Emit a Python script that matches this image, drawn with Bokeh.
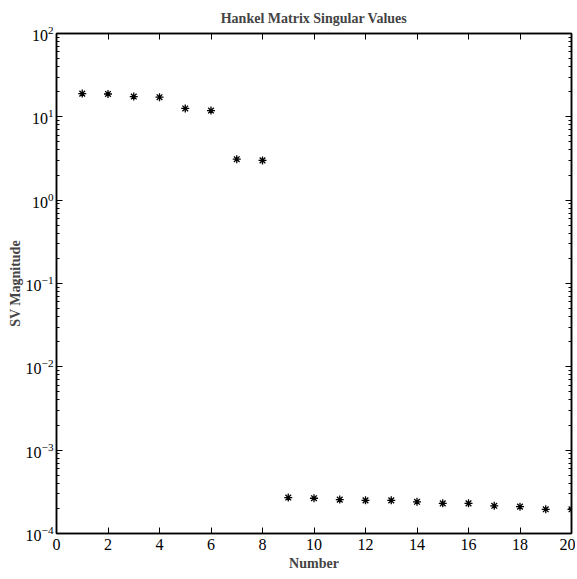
from bokeh.plotting import figure
from bokeh.models import (Range1d, LinearAxis, LogAxis, LogTicker,
                          SingleIntervalTicker, ColumnDataSource)
from bokeh.embed import file_html
from bokeh.resources import INLINE

# ---- data ----
number = list(range(1, 21))
sv_magnitude = [19.0, 18.8, 17.5, 17.2, 12.6, 11.9, 3.1, 3.0,
                2.7e-4, 2.65e-4, 2.55e-4, 2.5e-4, 2.5e-4, 2.4e-4,
                2.3e-4, 2.3e-4, 2.15e-4, 2.1e-4, 1.95e-4, 1.95e-4]
title_text = "Hankel Matrix Singular Values"
x_label = "Number"
y_label = "SV Magnitude"

FONT = "Liberation Serif"

p = figure(width=575, height=577, y_axis_type="log",
           x_range=Range1d(0, 20), y_range=Range1d(1e-4, 1e2),
           output_backend="svg", toolbar_location=None,
           min_border_left=56, min_border_right=4,
           min_border_top=33, min_border_bottom=44)

p.title.text = title_text
p.title.align = "center"
p.title.text_font = FONT
p.title.text_font_size = "14px"
p.title.text_font_style = "bold"
p.title.text_line_height = 1.0
p.title.offset = 0
p.title.standoff = 16

p.xgrid.visible = False
p.ygrid.visible = False
p.outline_line_color = "black"
p.outline_line_width = 1.5
p.background_fill_color = "white"
p.border_fill_color = "white"

xt = SingleIntervalTicker(interval=2, num_minor_ticks=0)
yt = LogTicker(num_minor_ticks=10)

def style(ax, labels=True):
    ax.axis_line_color = "black"
    ax.axis_line_width = 1.5
    ax.major_tick_in = 6
    ax.major_tick_out = 0
    ax.minor_tick_in = 3
    ax.minor_tick_out = 0
    ax.major_tick_line_color = "black"
    ax.minor_tick_line_color = "black"
    ax.major_label_text_font = FONT
    if labels:
        ax.major_label_text_font_size = "16px"
        ax.major_label_text_color = "black"
        ax.major_label_standoff = 4
    else:
        ax.major_label_text_font_size = "1px"
        ax.major_label_text_color = None
        ax.major_label_standoff = 0

xa = p.xaxis[0]
xa.ticker = xt
style(xa)
xa.major_label_standoff = 5
xa.axis_label = x_label
xa.axis_label_text_font = FONT
xa.axis_label_text_font_size = "14px"
xa.axis_label_text_font_style = "bold"
xa.axis_label_standoff = 3

ya = p.yaxis[0]
ya.ticker = yt
style(ya)
ya.major_label_standoff = 3
ya.axis_label = y_label
ya.axis_label_text_font = FONT
ya.axis_label_text_font_size = "14px"
ya.axis_label_text_font_style = "bold"
ya.axis_label_standoff = 0

top = LinearAxis(ticker=xt)
style(top, labels=False)
p.add_layout(top, "above")

right = LogAxis(ticker=yt)
style(right, labels=False)
p.add_layout(right, "right")

src = ColumnDataSource(data=dict(x=number, y=sv_magnitude))
p.scatter("x", "y", source=src, marker="asterisk", size=8,
          line_color="black", line_width=1.3)

open("out.html", "w").write(file_html(p, INLINE))
